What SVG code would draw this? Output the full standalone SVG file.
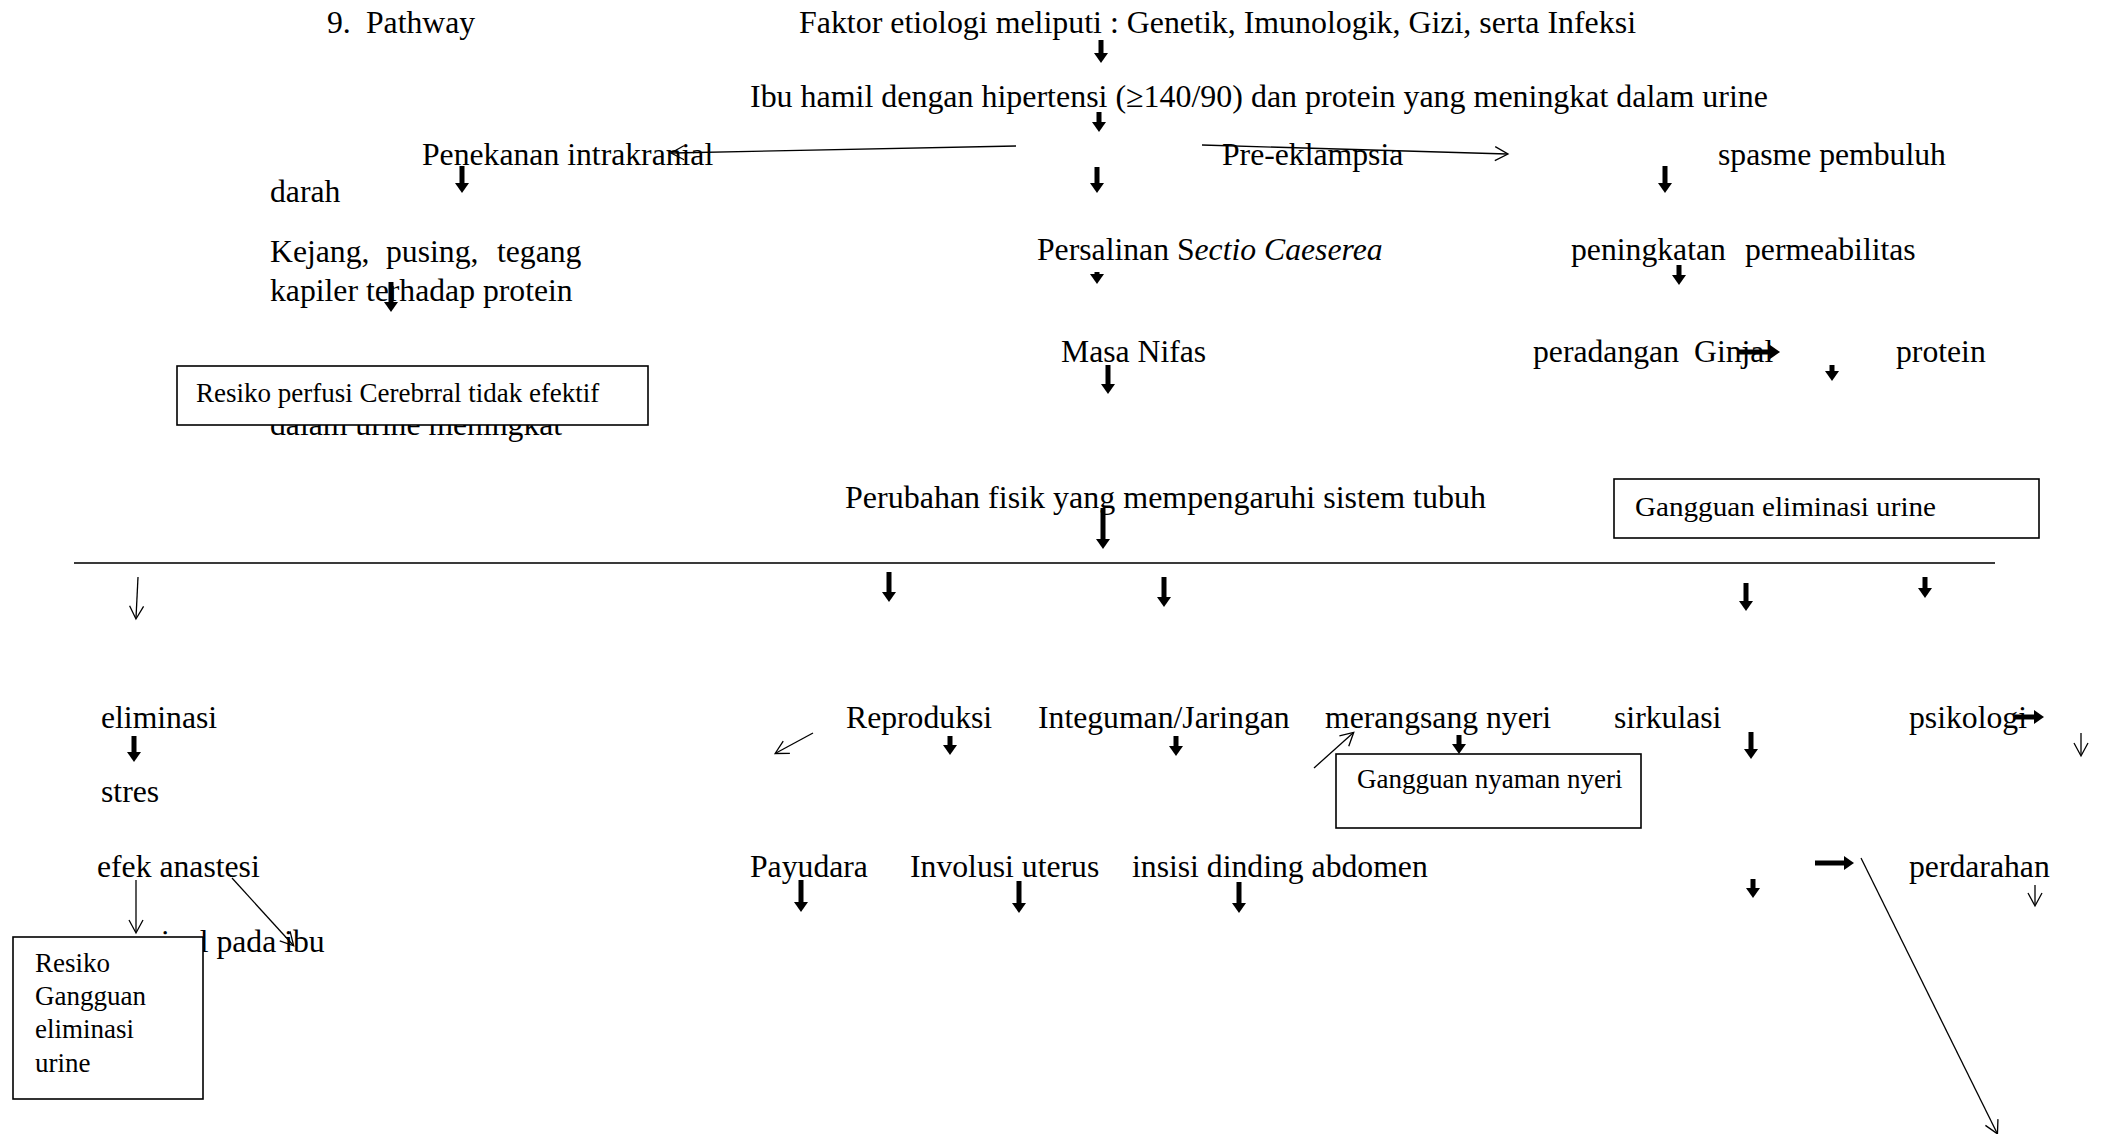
<svg xmlns="http://www.w3.org/2000/svg" width="2106" height="1134" viewBox="0 0 2106 1134">
<style>
text{font-family:"Liberation Serif","Times New Roman",serif;fill:#000}
.t{font-size:31.7px}
.s{font-size:27px}
.box{fill:#fff;stroke:#000;stroke-width:1.6}
.b{stroke:#000;stroke-width:5;fill:none;marker-end:url(#hb)}
.o{stroke:#000;stroke-width:1.3;fill:none;marker-end:url(#ho)}
</style>
<defs>
<marker id="hb" markerUnits="userSpaceOnUse" markerWidth="11" markerHeight="14" viewBox="0 -7 11 14" refX="0" refY="0" orient="auto" overflow="visible"><path d="M0,-7 L10,0 L0,7 z" fill="#000"/></marker>
<marker id="ho" markerUnits="userSpaceOnUse" markerWidth="14" markerHeight="14" viewBox="-1 -7 14 14" refX="12" refY="0" orient="auto" overflow="visible"><path d="M0,-7 L13,0 L0,7" fill="none" stroke="#000" stroke-width="1.3"/></marker>
</defs>
<rect width="2106" height="1134" fill="#fff"/>
<g id="nodes">
<g id="n-title"><text class="t" x="327" y="33">9.<tspan x="366">Pathway</tspan></text></g>
<g id="n-faktor"><text class="t" x="799" y="33" textLength="837" lengthAdjust="spacingAndGlyphs">Faktor etiologi meliputi : Genetik, Imunologik, Gizi, serta Infeksi</text></g>
<g id="n-ibu"><text class="t" x="750" y="107" textLength="1018" lengthAdjust="spacingAndGlyphs">Ibu hamil dengan hipertensi (≥140/90) dan protein yang meningkat dalam urine</text></g>
<g id="n-penekanan"><text class="t" x="422" y="165">Penekanan intrakranial</text></g>
<g id="n-pre"><text class="t" x="1222" y="165">Pre-eklampsia</text></g>
<g id="n-spasme"><text class="t" x="1718" y="165">spasme pembuluh</text></g>
<g id="n-darah"><text class="t" x="270" y="202">darah</text></g>
<g id="n-kejang"><text class="t" x="270" y="262">Kejang,<tspan x="386">pusing,</tspan><tspan x="497">tegang</tspan></text></g>
<g id="n-kapiler"><text class="t" x="270" y="301">kapiler terhadap protein</text></g>
<g id="n-sc"><text class="t" x="1037" y="260">Persalinan S<tspan font-style="italic">ectio Caeserea</tspan></text></g>
<g id="n-peningkatan"><text class="t" x="1571" y="260">peningkatan<tspan x="1745">permeabilitas</tspan></text></g>
<g id="n-nifas"><text class="t" x="1061" y="362">Masa Nifas</text></g>
<g id="n-ginjal"><text class="t" x="1533" y="362">peradangan<tspan x="1694">Ginjal</tspan></text></g>
<g id="n-protein"><text class="t" x="1896" y="362">protein</text></g>
<g id="n-urine"><text class="t" x="270" y="435">dalam urine meningkat</text></g>
<g id="n-perubahan"><text class="t" x="845" y="508" textLength="641" lengthAdjust="spacingAndGlyphs">Perubahan fisik yang mempengaruhi sistem tubuh</text></g>
<g id="n-eliminasi"><text class="t" x="101" y="728">eliminasi</text></g>
<g id="n-reproduksi"><text class="t" x="846" y="728">Reproduksi</text></g>
<g id="n-integuman"><text class="t" x="1038" y="728">Integuman/Jaringan</text></g>
<g id="n-merangsang"><text class="t" x="1325" y="728">merangsang nyeri</text></g>
<g id="n-sirkulasi"><text class="t" x="1614" y="728">sirkulasi</text></g>
<g id="n-psikologi"><text class="t" x="1909" y="728">psikologi</text></g>
<g id="n-stres"><text class="t" x="101" y="802">stres</text></g>
<g id="n-efek"><text class="t" x="97" y="877">efek anastesi</text></g>
<g id="n-payudara"><text class="t" x="750" y="877">Payudara</text></g>
<g id="n-involusi"><text class="t" x="910" y="877">Involusi uterus</text></g>
<g id="n-insisi"><text class="t" x="1132" y="877">insisi dinding abdomen</text></g>
<g id="n-perdarahan"><text class="t" x="1909" y="877">perdarahan</text></g>
<g id="n-pada"><text class="t" x="161" y="952">inal pada ibu</text></g>
<g id="box-cerebral"><rect class="box" x="177" y="366" width="471" height="59"/><text class="s" x="196" y="402">Resiko perfusi Cerebrral tidak efektif</text></g>
<g id="box-elim"><rect class="box" x="1614" y="479" width="425" height="59"/><text class="s" x="1635" y="516" textLength="301" lengthAdjust="spacingAndGlyphs">Gangguan eliminasi urine</text></g>
<g id="box-nyeri"><rect class="box" x="1336" y="754" width="305" height="74"/><text class="s" x="1357" y="788">Gangguan nyaman nyeri</text></g>
<g id="box-resiko"><rect class="box" x="13" y="937" width="190" height="162"/><text class="s" x="35" y="972">Resiko</text><text class="s" x="35" y="1005">Gangguan</text><text class="s" x="35" y="1038">eliminasi</text><text class="s" x="35" y="1072">urine</text></g>
</g>
<g id="connectors">
<line x1="74" y1="563" x2="1995" y2="563" stroke="#3a3a3a" stroke-width="2"/>
<line class="b" x1="1101" y1="40" x2="1101" y2="53"/>
<line class="b" x1="1099" y1="112" x2="1099" y2="122"/>
<line class="b" x1="1097" y1="167" x2="1097" y2="183"/>
<line class="b" x1="462" y1="166" x2="462" y2="183"/>
<line class="b" x1="1665" y1="166" x2="1665" y2="183"/>
<line class="b" x1="391" y1="282" x2="391" y2="302"/>
<line class="b" x1="1097" y1="272" x2="1097" y2="274"/>
<line class="b" x1="1679" y1="265" x2="1679" y2="275"/>
<line class="b" x1="1108" y1="365" x2="1108" y2="384"/>
<line class="b" x1="1832" y1="365" x2="1832" y2="371"/>
<line class="b" x1="1103" y1="508" x2="1103" y2="539"/>
<line class="b" x1="889" y1="572" x2="889" y2="592"/>
<line class="b" x1="1164" y1="577" x2="1164" y2="597"/>
<line class="b" x1="1746" y1="583" x2="1746" y2="601"/>
<line class="b" x1="1925" y1="577" x2="1925" y2="588"/>
<line class="b" x1="134" y1="736" x2="134" y2="752"/>
<line class="b" x1="950" y1="736" x2="950" y2="745"/>
<line class="b" x1="1176" y1="736" x2="1176" y2="746"/>
<line class="b" x1="1459" y1="735" x2="1459" y2="744"/>
<line class="b" x1="1751" y1="732" x2="1751" y2="749"/>
<line class="b" x1="801" y1="880" x2="801" y2="902"/>
<line class="b" x1="1019" y1="881" x2="1019" y2="903"/>
<line class="b" x1="1239" y1="882" x2="1239" y2="903"/>
<line class="b" x1="1753" y1="879" x2="1753" y2="888"/>
<line class="b" x1="1739" y1="352" x2="1770" y2="352" stroke-width="7"/>
<line class="b" x1="2015" y1="717" x2="2034" y2="717" stroke-width="7"/>
<line class="b" x1="1815" y1="863" x2="1844" y2="863" stroke-width="7"/>
<line class="o" x1="1016" y1="146" x2="672" y2="153"/>
<line class="o" x1="1202" y1="145" x2="1507" y2="154"/>
<line class="o" x1="138" y1="577" x2="136" y2="618"/>
<line class="o" x1="813" y1="733" x2="776" y2="753"/>
<line class="o" x1="1314" y1="768" x2="1353" y2="733"/>
<line class="o" x1="2081" y1="733" x2="2081" y2="755"/>
<line class="o" x1="136" y1="880" x2="136" y2="932"/>
<line class="o" x1="232" y1="878" x2="293" y2="945"/>
<line class="o" x1="1861" y1="858" x2="1997" y2="1133"/>
<line class="o" x1="2035" y1="885" x2="2035" y2="905"/>
</g>
</svg>
